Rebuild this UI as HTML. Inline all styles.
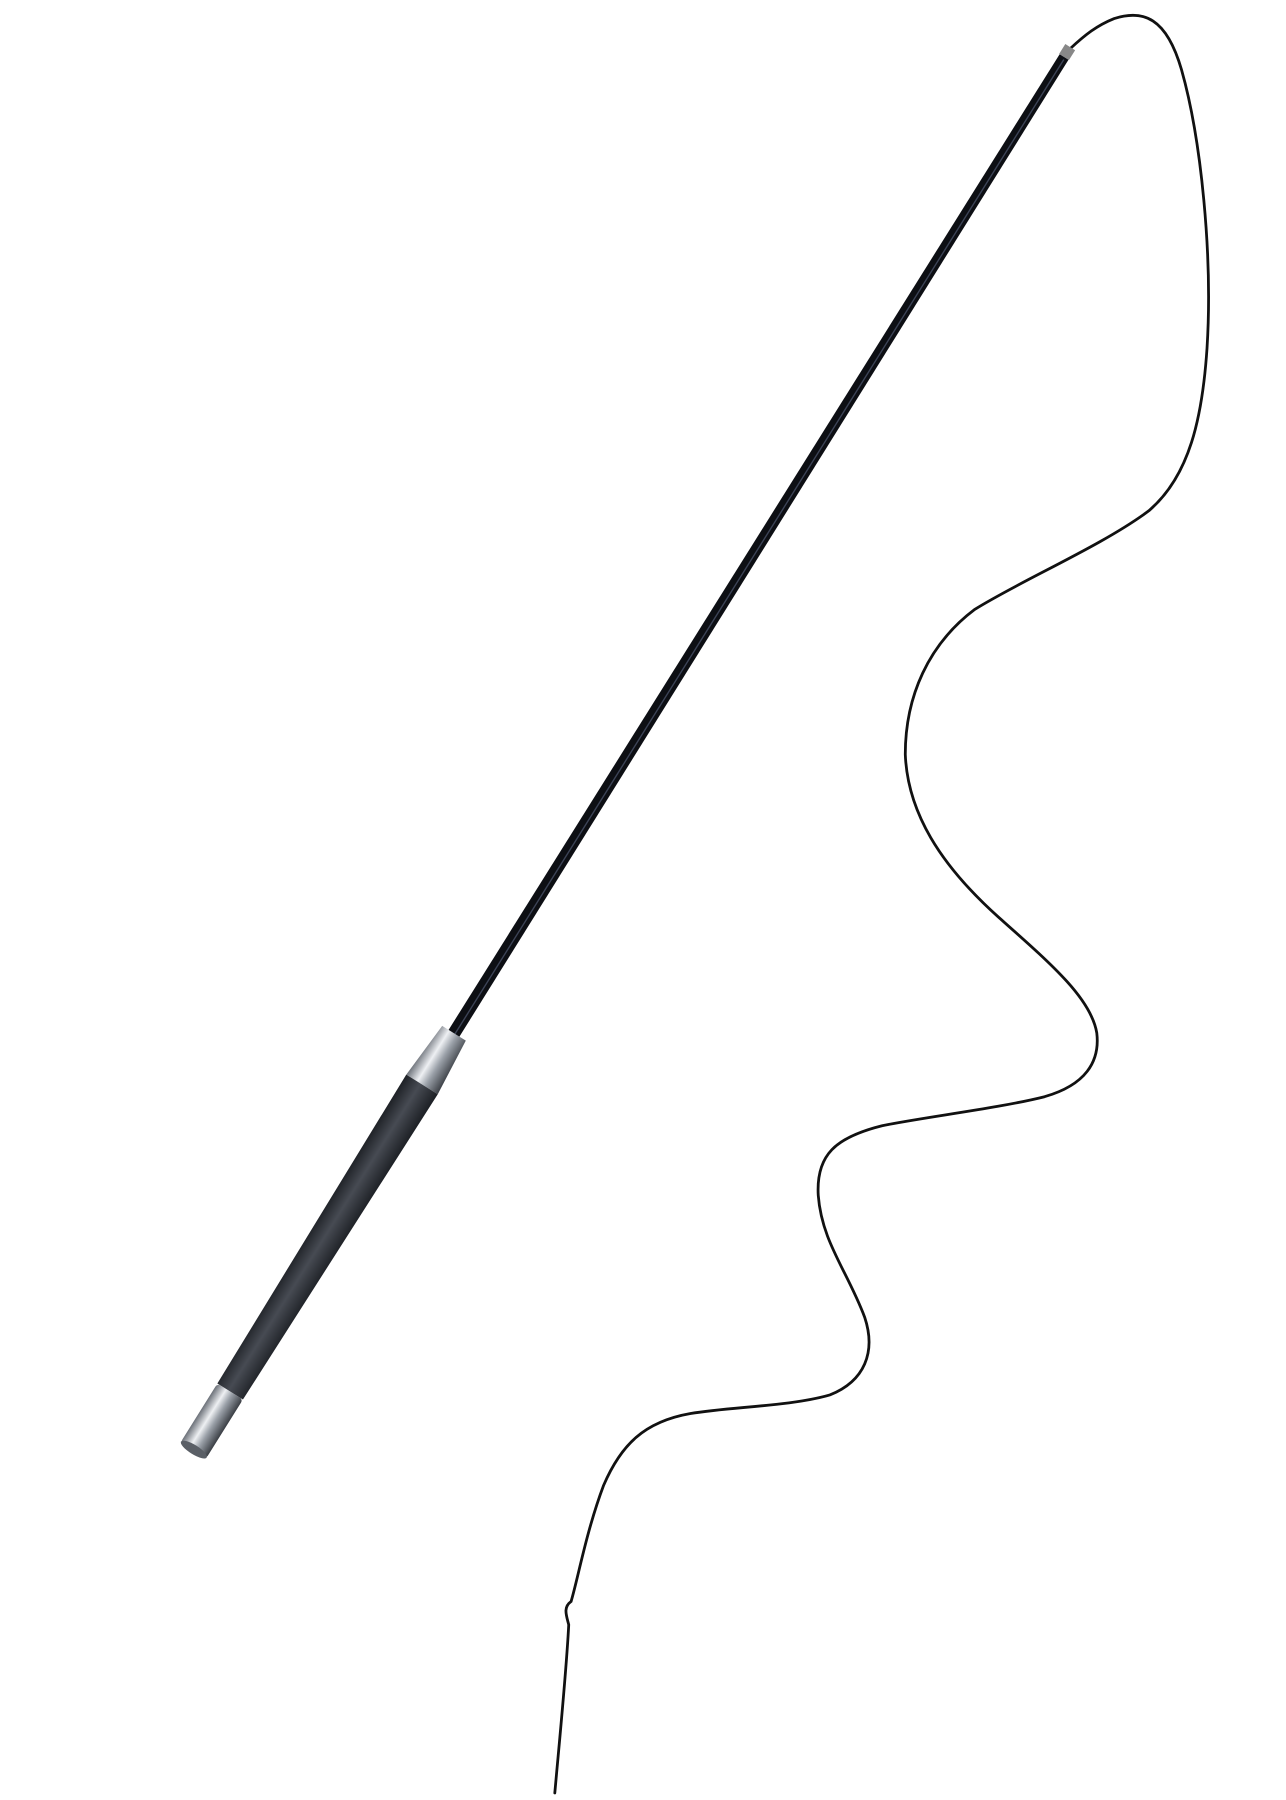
<!DOCTYPE html>
<html><head><meta charset="utf-8"><style>
html,body{margin:0;padding:0;background:#fff;}
svg{display:block;}
</style></head><body>
<svg width="1286" height="1800" viewBox="0 0 1108 1551" xmlns="http://www.w3.org/2000/svg">
<defs>
<linearGradient id="silver" x1="0" y1="0" x2="1" y2="0">
<stop offset="0" stop-color="#6b7078"/><stop offset="0.35" stop-color="#eef0f3"/><stop offset="0.6" stop-color="#9aa0a8"/><stop offset="1" stop-color="#3a3e44"/>
</linearGradient>
<linearGradient id="grip" x1="0" y1="0" x2="1" y2="0">
<stop offset="0" stop-color="#1e2126"/><stop offset="0.45" stop-color="#474b53"/><stop offset="1" stop-color="#1c1f24"/>
</linearGradient>
</defs>
<!-- lash -->
<path d="M922 42 C935 30 945 22 960 16 C985 8 1005 15 1018 60 C1035 120 1045 220 1040 300 C1036 360 1025 410 990 440 C950 470 880 500 840 525 C800 555 780 600 780 650 C782 700 810 745 860 790 C905 830 940 860 945 890 C948 915 935 935 900 945 C860 955 800 962 760 970 C720 980 703 995 705 1030 C708 1070 730 1095 745 1135 C755 1165 745 1190 715 1202 C680 1212 630 1212 595 1218 C555 1225 535 1245 520 1280 C505 1320 498 1360 492 1380 C485 1385 488 1392 490 1400 C488 1440 482 1500 478 1545" fill="none" stroke="#111" stroke-width="2.4" stroke-linecap="round"/>
<g transform="translate(920,44) rotate(32)">
  <!-- tip fitting -->
  <rect x="-5" y="-4" width="10" height="10" fill="#888"/>
  <!-- shaft -->
  <polygon points="-4.5,6 4.5,6 5.5,1000 -5.5,1000" fill="#0d0f14"/>
  <line x1="1" y1="8" x2="1" y2="998" stroke="#3c4356" stroke-width="1.2"/>
  <!-- ferrule -->
  <polygon points="-12,998 12,998 16,1050 -16,1050" fill="url(#silver)"/>
  <!-- handle -->
  <polygon points="-16,1050 16,1050 13,1362 -13,1362" fill="url(#grip)"/>
  <!-- end cap -->
  <rect x="-13" y="1362" width="26" height="60" rx="3" fill="url(#silver)"/>
  <ellipse cx="0" cy="1421" rx="13" ry="4" fill="#5a5f66"/>
</g>
</svg>
</body></html>
